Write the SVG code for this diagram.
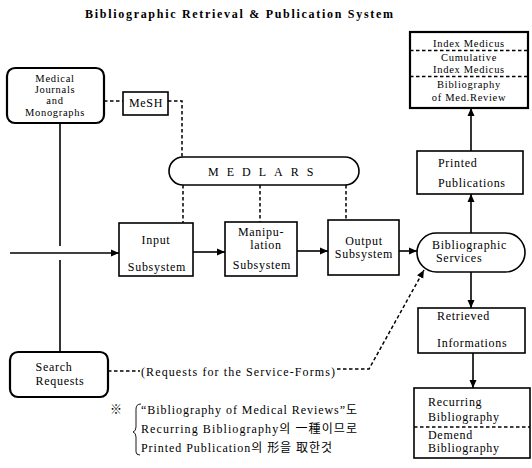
<svg xmlns="http://www.w3.org/2000/svg" width="532" height="468" viewBox="0 0 532 468">
<defs>
<marker id="ah" markerUnits="userSpaceOnUse" markerWidth="8" markerHeight="8" refX="8" refY="4" orient="auto">
<path d="M0,0.5 L8,4 L0,7.5 z" fill="#000"/>
</marker>
<style>
text{font-family:"Liberation Serif","Noto Sans CJK KR",serif;fill:#000;font-size:12px}
.c{text-anchor:middle}
.s{font-size:10.5px}
.box{fill:#fff;stroke:#000;stroke-width:1.6}
.rbox{fill:#fff;stroke:#000;stroke-width:2.2}
.ln{fill:none;stroke:#000;stroke-width:1.6}
.ar{fill:none;stroke:#000;stroke-width:1.6;marker-end:url(#ah)}
.dl{fill:none;stroke:#000;stroke-width:1.5;stroke-dasharray:3.5 2.5}
.da{fill:none;stroke:#000;stroke-width:1.5;stroke-dasharray:3.5 2.5;marker-end:url(#ah)}
.ls{letter-spacing:0.7px}
</style>
</defs>
<rect width="532" height="468" fill="#fff"/>
<text x="85" y="18" font-weight="bold" font-size="13.5" textLength="308" lengthAdjust="spacing">Bibliographic Retrieval &amp; Publication System</text>

<g id="connectors">
<path class="dl" d="M104,101 H123"/>
<path class="dl" d="M168,101 H182 V157"/>
<path class="dl" d="M183,185 V223"/>
<path class="dl" d="M260,185 V222"/>
<path class="dl" d="M346,185 V220"/>
<path class="ln" d="M60,123 V246"/>
<path class="ln" d="M60,260 V352"/>
<path class="ar" d="M10,253 H119"/>
<path class="ar" d="M193,252 H225"/>
<path class="ar" d="M297,251 H328"/>
<path class="ar" d="M399,251 H417"/>
<path class="ar" d="M471,233 V194"/>
<path class="ar" d="M471,151 V108"/>
<path class="ar" d="M471,272 V308"/>
<path class="ar" d="M473,353 V388"/>
<path class="dl" d="M108,371 H140"/>
<path class="da" d="M337,369 H369 L424,270"/>
</g>

<g id="medical-journals">
<rect class="rbox" x="7" y="68" width="97" height="55" rx="8"/>
<text class="c ls s" x="55" y="82">Medical</text>
<text class="c ls s" x="55" y="93">Journals</text>
<text class="c ls s" x="55" y="104">and</text>
<text class="c ls s" x="55" y="116">Monographs</text>
</g>

<g id="mesh">
<rect class="box" x="123" y="92" width="45" height="23"/>
<text class="c ls" x="146" y="107">MeSH</text>
</g>

<g id="medlars">
<rect class="box" x="169" y="157" width="190" height="28" rx="14"/>
<text x="208" y="176" font-size="14" letter-spacing="8">MEDLARS</text>
</g>

<g id="input-subsystem">
<rect class="box" x="119" y="223" width="74" height="53"/>
<text class="c ls" x="156" y="244">Input</text>
<text class="c ls" x="157" y="271">Subsystem</text>
</g>

<g id="manipulation-subsystem">
<rect class="box" x="225" y="222" width="72" height="54"/>
<text class="c ls" x="261" y="236">Manipu-</text>
<text class="c ls" x="266" y="249">lation</text>
<text class="c ls" x="262" y="269">Subsystem</text>
</g>

<g id="output-subsystem">
<rect class="box" x="328" y="220" width="71" height="55"/>
<text class="c ls" x="364" y="245">Output</text>
<text class="c ls" x="364" y="258">Subsystem</text>
</g>

<g id="bibliographic-services">
<rect class="box" x="417" y="233" width="108" height="39" rx="19.5"/>
<text class="ls" x="432" y="249">Bibliographic</text>
<text class="ls" x="436" y="262">Services</text>
</g>

<g id="printed-publications">
<rect class="box" x="417" y="151" width="106" height="43"/>
<text class="ls" x="438" y="167">Printed</text>
<text class="ls" x="438" y="187">Publications</text>
</g>

<g id="index-medicus">
<rect class="rbox" x="410" y="32" width="118" height="76"/>
<text class="c ls s" x="469" y="47">Index Medicus</text>
<path class="dl" d="M410,50.5 H528"/>
<text class="c ls s" x="469" y="61">Cumulative</text>
<text class="c ls s" x="469" y="73">Index Medicus</text>
<path class="dl" d="M410,76.5 H528"/>
<text class="c ls s" x="469" y="88">Bibliography</text>
<text class="c ls s" x="469" y="101">of Med.Review</text>
</g>

<g id="retrieved-informations">
<rect class="box" x="418" y="308" width="107" height="45"/>
<text class="ls" x="437" y="320">Retrieved</text>
<text class="ls" x="437" y="347">Informations</text>
</g>

<g id="recurring-bibliography">
<rect class="box" x="414" y="388" width="116" height="70"/>
<text class="ls" x="428" y="406">Recurring</text>
<text class="ls" x="428" y="421">Bibliography</text>
<path class="dl" d="M414,427 H530"/>
<text class="ls" x="428" y="439">Demend</text>
<text class="ls" x="428" y="452">Bibliography</text>
</g>

<g id="search-requests">
<rect class="rbox" x="10" y="352" width="98" height="45" rx="8"/>
<text class="c ls" x="54" y="371">Search</text>
<text class="c ls" x="60" y="385">Requests</text>
</g>

<g id="labels">
<text x="141" y="376" font-size="11" textLength="194" lengthAdjust="spacing">(Requests for the Service-Forms)</text>
<text x="110" y="414" font-size="11">※</text>
<path fill="none" stroke="#000" stroke-width="0.9" d="M141,404 Q136,404 136,409 V427 Q136,431 133,432 Q136,433 136,437 V452 Q136,455 140,455"/>
<text x="141" y="414" font-size="11" textLength="216" lengthAdjust="spacing">“Bibliography of Medical Reviews”도</text>
<text x="141" y="433" font-size="11" textLength="216" lengthAdjust="spacing">Recurring Bibliography의 一種이므로</text>
<text x="141" y="452" font-size="11" textLength="191" lengthAdjust="spacing">Printed Publication의 形을 取한것</text>
</g>
</svg>
